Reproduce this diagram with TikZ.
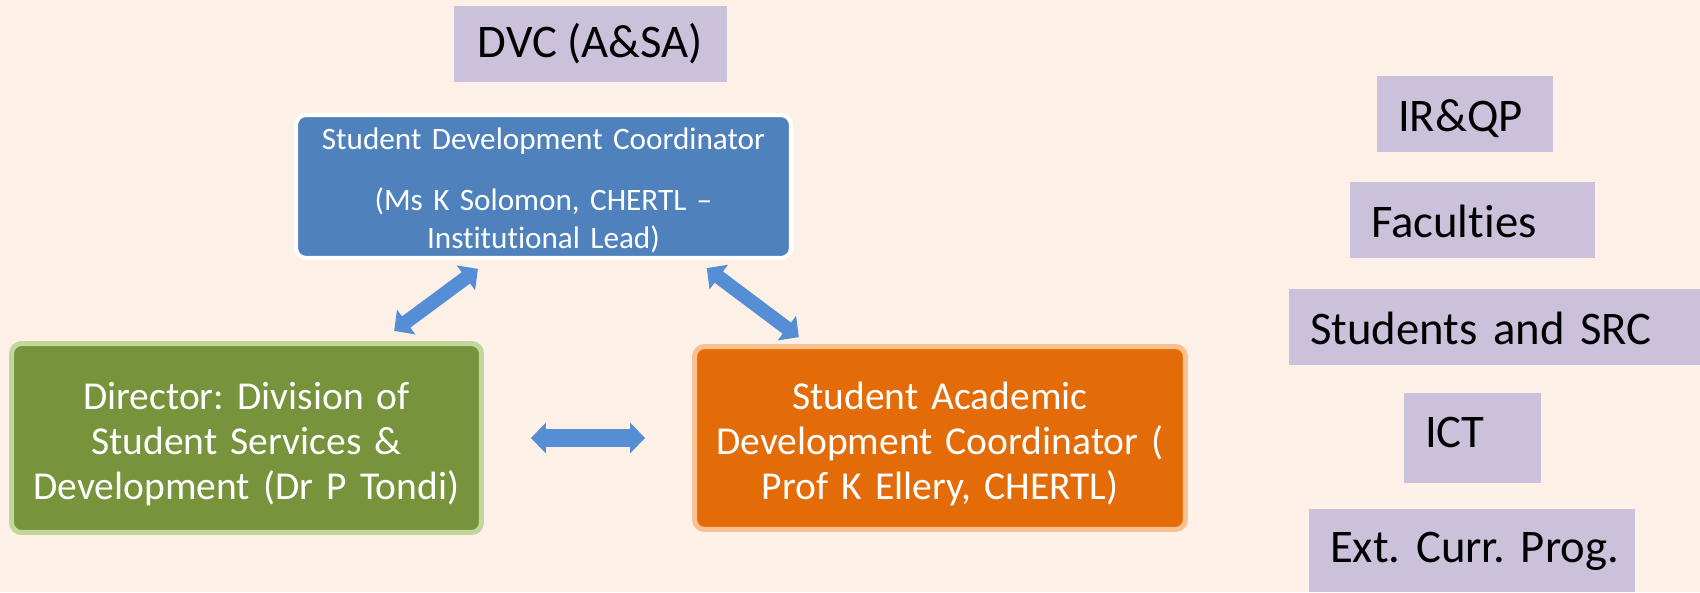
\documentclass[tikz,border=0pt]{standalone}
\usepackage{fontspec}
\setmainfont{Carlito}[Ligatures={TeX,NoCommon}]
\usepackage{tikz}
\usetikzlibrary{arrows.meta}
\definecolor{bgpeach}{HTML}{FDF0E7}
\definecolor{lavender}{HTML}{CCC1DA}
\definecolor{sdcblue}{HTML}{4F81BD}
\definecolor{dirgreen}{HTML}{77933C}
\definecolor{dirrim}{HTML}{C3D69B}
\definecolor{sadcorange}{HTML}{E36C09}
\definecolor{sadcrim}{HTML}{FAC090}
\definecolor{linkblue}{HTML}{558ED5}
\frenchspacing

\begin{document}
\begin{tikzpicture}[x=0.02cm,y=-0.02cm
        ,office/.style = {fill=lavender, inner xsep=0.42cm, inner ysep=0pt, align=left, minimum height=1.52cm, text height=0.8cm, text depth=0.12cm, font=\fontsize{26.6}{32}\selectfont}
        ,coord/.style = {rounded corners=0.2cm, text=white, align=center, inner sep=0pt}
        ,link/.style = {draw=linkblue, line width=0.36cm, {Triangle[length=0.3cm,width=0.6cm]}-{Triangle[length=0.3cm,width=0.6cm]}}
      ]

      \fill[bgpeach] (0,0) rectangle (1700,592);
      \useasboundingbox (0,0) rectangle (1700,592);

      \node[office, minimum width=5.46cm, inner xsep=0pt, align=center, text depth=0.24cm] (dvc) at (590.5,44) {DVC (A\&SA)};

      \node[coord, fill=sdcblue, draw=white, line width=0.08cm, minimum width=9.9cm, minimum height=2.86cm, text width=9.5cm, font=\fontsize{17.75}{21.6}\selectfont] (sdc) at (543.5,186.5) {\rule{0pt}{0.6cm}Student Development Coordinator\\[0.46cm](Ms K Solomon, CHERTL –\\Institutional Lead)};
      \node[coord, fill=dirgreen, draw=dirrim, line width=0.1cm, minimum width=9.4cm, minimum height=3.78cm, text width=9cm, font=\fontsize{22.5}{25.6}\selectfont] (dir) at (246.5,438) {\rule{0pt}{0.8cm}Director: Division of\\Student Services \&\\Development (Dr P Tondi)};
      \node[coord, fill=sadcorange, draw=sadcrim, line width=0.1cm, minimum width=9.82cm, minimum height=3.66cm, text width=9.4cm, font=\fontsize{22.5}{25.6}\selectfont] (sadc) at (940,438) {\rule{0pt}{0.8cm}Student Academic\\Development Coordinator (\\Prof K Ellery, CHERTL)};

      \draw[link, line width=0.28cm, shorten <=0.3cm, shorten >=0.34cm] ([xshift=3.92cm]sdc.south west) -- ([xshift=7.43cm]dir.north west);
      \draw[link, line width=0.28cm, shorten <=0.27cm, shorten >=0.23cm] ([xshift=8.04cm]sdc.south west) -- ([xshift=2.32cm]sadc.north west);
      \draw[link, shorten <=0.94cm, shorten >=0.94cm] (dir.east) -- (sadc.west);

      \node[office, text width=2.68cm] (irqp) at (1465,114) {\mbox{IR\&QP}};
      \node[office, text width=4.06cm] (fac) at (1472.5,220) {\mbox{Faculties}};
      \node[office, text width=7.38cm] (src) at (1494.5,327) {\mbox{Students and SRC}};
      \node[office, text width=1.9cm, minimum height=1.8cm, text depth=0.44cm] (ict) at (1472.5,438) {\mbox{ICT}};
      \node[office, text width=5.68cm, minimum height=1.66cm, text depth=0.34cm] (ecp) at (1472,550.5) {\mbox{Ext. Curr. Prog.}};
    \end{tikzpicture}
\end{document}
